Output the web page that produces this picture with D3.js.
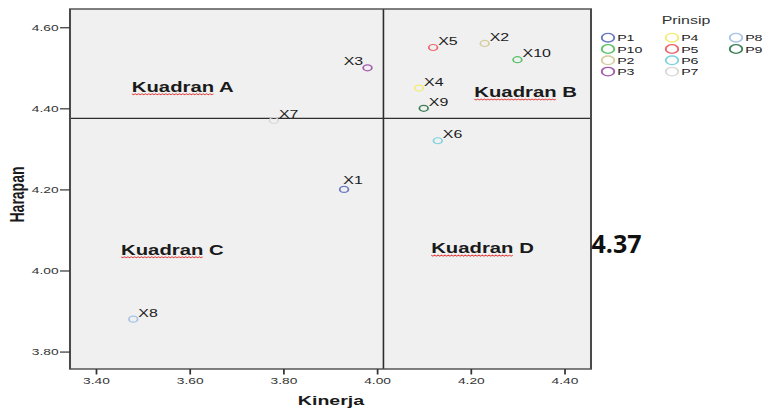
<!DOCTYPE html>
<html>
<head>
<meta charset="utf-8">
<script src="https://cdn.jsdelivr.net/npm/d3@7"></script>
<style>
  html, body { margin: 0; padding: 0; background: #fff; }
  svg { display: block; }
</style>
</head>
<body>
<svg id="chart" width="764" height="409"></svg>
<script>
// ---- data ----
const pointLabels = ["X1", "X2", "X3", "X4", "X5", "X6", "X7", "X8", "X9", "X10"];
const groups      = ["P1", "P2", "P3", "P4", "P5", "P6", "P7", "P8", "P9", "P10"];
const kinerja     = [3.93, 4.23, 3.98, 4.09, 4.12, 4.13, 3.78, 3.48, 4.10, 4.30];
const harapan     = [4.20, 4.56, 4.50, 4.45, 4.55, 4.32, 4.37, 3.88, 4.40, 4.52];
const groupColors = ["#6b78c4", "#d6cd9e", "#a35aac", "#f2ec78", "#ee6570",
                     "#7fd3dd", "#d9d9d9", "#a6c3e6", "#3f7f58", "#5cc36a"];
const xTicks = [3.40, 3.60, 3.80, 4.00, 4.20, 4.40];
const yTicks = [3.80, 4.00, 4.20, 4.40, 4.60];
const xTitle = "Kinerja";
const yTitle = "Harapan";
const legendTitle = "Prinsip";
const quadrantNames = ["Kuadran A", "Kuadran B", "Kuadran C", "Kuadran D"];
const quadrantX = [3.477, 4.208, 3.454, 4.116];   // data-space anchors
const quadrantY = [4.44, 4.427, 4.038, 4.042];
const meanNote = "4.37";

// ---- layout (picture is horizontally stretched) ----
const SX = 1.45;
const svg = d3.select("#chart");
const g = svg.append("g").attr("transform", `scale(${SX},1)`);

const plot = { left: 70 / SX, right: 591 / SX, top: 9, bottom: 369 };
const x = d3.scaleLinear().domain([3.345, 4.457]).range([plot.left, plot.right]);
const y = d3.scaleLinear().domain([3.757, 4.645]).range([plot.bottom, plot.top]);

const color = d3.scaleOrdinal().domain(groups).range(groupColors);
const font = "'Liberation Sans', Arial, sans-serif";

// background
g.append("rect")
  .attr("x", plot.left).attr("y", plot.top)
  .attr("width", plot.right - plot.left).attr("height", plot.bottom - plot.top)
  .attr("fill", "#f0f0f0");

// mean lines
const meanX = d3.mean(kinerja), meanY = d3.mean(harapan);
g.append("line")
  .attr("x1", x(meanX)).attr("x2", x(meanX))
  .attr("y1", plot.top).attr("y2", plot.bottom)
  .attr("stroke", "#2e2e2e").attr("stroke-width", 1.1);
g.append("line")
  .attr("x1", plot.left).attr("x2", plot.right)
  .attr("y1", y(meanY)).attr("y2", y(meanY))
  .attr("stroke", "#2e2e2e").attr("stroke-width", 1.3);

// frame
g.append("rect")
  .attr("x", plot.left).attr("y", plot.top)
  .attr("width", plot.right - plot.left).attr("height", plot.bottom - plot.top)
  .attr("fill", "none").attr("stroke", "#4a4a4a").attr("stroke-width", 1.4);

// axes
const yAxis = g.append("g")
  .attr("transform", `translate(${plot.left},0)`)
  .call(d3.axisLeft(y).tickValues(yTicks).tickFormat(d3.format(".2f")).tickSize(10 / SX).tickPadding(1));
const xAxis = g.append("g")
  .attr("transform", `translate(0,${plot.bottom})`)
  .call(d3.axisBottom(x).tickValues(xTicks).tickFormat(d3.format(".2f")).tickSize(5.5).tickPadding(3));
[xAxis, yAxis].forEach(a => {
  a.select(".domain").remove();
  a.selectAll(".tick line").attr("stroke", "#333").attr("stroke-width", 1.2);
  a.selectAll(".tick text").attr("fill", "#333").style("font-family", font).style("font-size", "9.5px");
});

// axis titles
g.append("text")
  .attr("x", 331 / SX).attr("y", 405)
  .attr("text-anchor", "middle")
  .style("font-family", font).style("font-size", "13.5px").style("font-weight", "bold")
  .attr("fill", "#1a1a1a").text(xTitle);
g.append("text")
  .attr("transform", `translate(${24 / SX},194.5) rotate(-90)`)
  .attr("text-anchor", "middle")
  .style("font-family", font).style("font-size", "14px").style("font-weight", "bold")
  .attr("fill", "#1a1a1a").text(yTitle);

// quadrant labels with spell-check squiggle
quadrantNames.forEach((name, i) => {
  const tx = x(quadrantX[i]), ty = y(quadrantY[i]);
  const t = g.append("text")
    .attr("x", tx).attr("y", ty)
    .style("font-family", font).style("font-size", "14px").style("font-weight", "bold")
    .attr("fill", "#1a1a1a").text(name);
  const wordW = t.node().getSubStringLength(0, 7);
  const step = 1.7 / SX;
  const pts = [];
  for (let k = 0, px = tx; px <= tx + wordW; k++, px += step) {
    pts.push([px, ty + 1.6 + (k % 2 ? 1.1 : 0)]);
  }
  g.append("path")
    .attr("d", d3.line()(pts))
    .attr("fill", "none").attr("stroke", "#e23b3b").attr("stroke-width", 0.7);
});

// points
const pts = pointLabels.map((lab, i) => ({ lab, grp: groups[i], kx: kinerja[i], hy: harapan[i] }));
g.selectAll("circle.pt").data(pts).join("circle")
  .attr("class", "pt")
  .attr("cx", d => x(d.kx)).attr("cy", d => y(d.hy))
  .attr("r", 3)
  .attr("fill", "none").attr("stroke", d => color(d.grp)).attr("stroke-width", 1.2);

g.selectAll("text.lab").data(pts).join("text")
  .attr("class", "lab")
  .attr("x", d => x(d.kx) + (d.lab === "X3" ? -3 : (d.lab === "X1" ? -0.5 : 3.5)))
  .attr("y", d => y(d.hy) + (d.lab === "X1" ? -5 : -2.5))
  .attr("text-anchor", d => d.lab === "X3" ? "end" : "start")
  .style("font-family", font).style("font-size", "11px")
  .attr("fill", "#1a1a1a").text(d => d.lab);

// legend
const legendOrder = groups.slice().sort();
const rows = 4;
g.append("text")
  .attr("x", 686 / SX).attr("y", 24)
  .attr("text-anchor", "middle")
  .style("font-family", font).style("font-size", "11px")
  .attr("fill", "#333").text(legendTitle);
const li = g.selectAll("g.li").data(legendOrder).join("g")
  .attr("class", "li")
  .attr("transform", (d, i) => `translate(${(608 + Math.floor(i / rows) * 64) / SX},${37.7 + (i % rows) * 11.3})`);
li.append("circle").attr("r", 4.3)
  .attr("fill", "none").attr("stroke", d => color(d)).attr("stroke-width", 1.3);
li.append("text").attr("x", 6.3).attr("y", 3.5)
  .style("font-family", font).style("font-size", "9.8px")
  .attr("fill", "#222").text(d => d);

// mean annotation (not stretched)
svg.append("text")
  .attr("x", 591.5).attr("y", 252.5)
  .style("font-family", "'Open Sans', sans-serif").style("font-size", "25px").style("font-weight", "700")
  .attr("fill", "#111").text(meanNote);
</script>
</body>
</html>
